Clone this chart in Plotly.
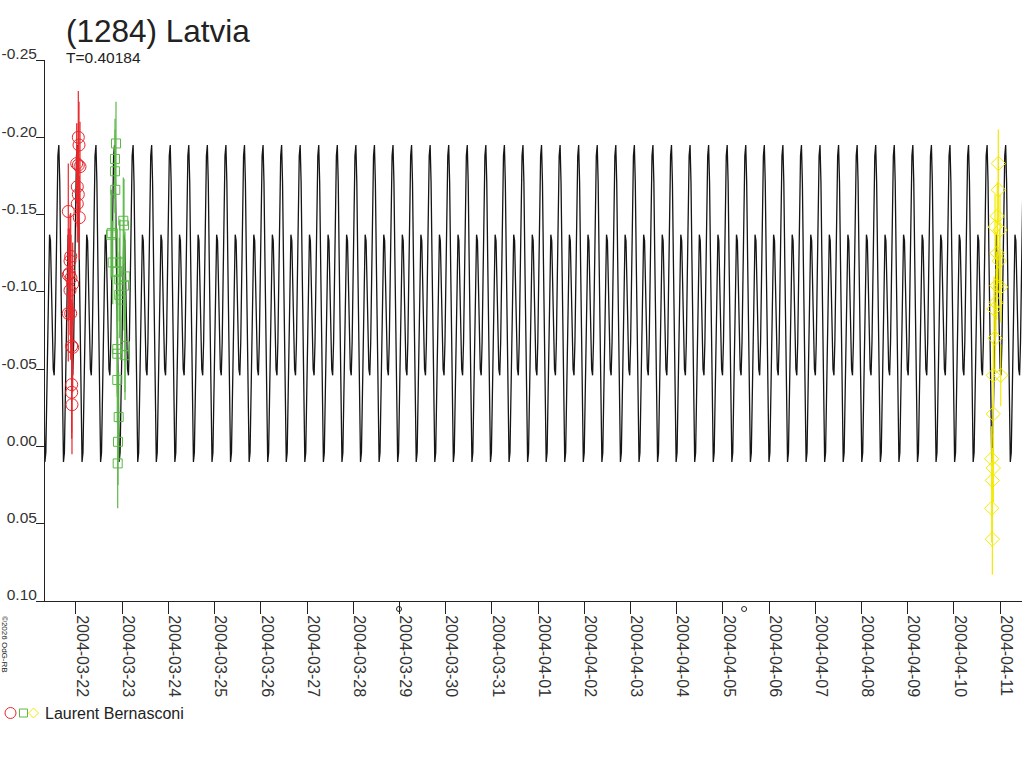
import numpy as np
import pandas as pd
import plotly.graph_objects as go

# ---------------- data ----------------
TITLE = "(1284) Latvia"
PERIOD_LABEL = "T=0.40184"
PERIOD_DAYS = 0.40184
OBSERVER = "Laurent Bernasconi"
COPYRIGHT = "©2026 OdG-RB"

# model lightcurve: one period (phase 0 = main maximum)
model_epoch = "2004-03-21 15:05"
model_phase = [0.00, 0.05, 0.10, 0.15, 0.20, 0.25, 0.30, 0.35, 0.40, 0.45,
               0.50, 0.55, 0.60, 0.65, 0.70, 0.75, 0.80, 0.85, 0.90, 0.95]
model_mag = [-0.195, -0.171, -0.122, -0.064, -0.015, 0.010, 0.004, -0.029, -0.075, -0.116,
             -0.137, -0.133, -0.108, -0.075, -0.050, -0.046, -0.068, -0.109, -0.155, -0.188]

# session 1 (red circles)
red_time = ["2004-03-22 01:12", "2004-03-22 01:34", "2004-03-22 00:22", "2004-03-22 01:12",
            "2004-03-22 02:05", "2004-03-22 00:41", "2004-03-22 01:12", "2004-03-22 00:41",
            "2004-03-21 20:00", "2004-03-22 01:43", "2004-03-21 21:15", "2004-03-21 20:53",
            "2004-03-21 20:31", "2004-03-21 20:00", "2004-03-21 21:24", "2004-03-21 22:17",
            "2004-03-21 20:53", "2004-03-21 21:15", "2004-03-21 20:00", "2004-03-21 21:46",
            "2004-03-21 22:17", "2004-03-21 21:46", "2004-03-21 21:46", "2004-03-21 21:55"]
red_mag = [-0.200, -0.195, -0.183, -0.182, -0.181, -0.168, -0.163, -0.157,
           -0.152, -0.148, -0.123, -0.120, -0.112, -0.111, -0.109, -0.105,
           -0.101, -0.086, -0.086, -0.065, -0.064, -0.040, -0.035, -0.027]
red_err = [0.030, 0.028, 0.026, 0.027, 0.029, 0.026, 0.027, 0.025,
           0.031, 0.027, 0.028, 0.030, 0.029, 0.030, 0.028, 0.027,
           0.029, 0.030, 0.031, 0.030, 0.029, 0.031, 0.030, 0.032]

# session 2 (green squares)
green_time = ["2004-03-22 20:47", "2004-03-22 20:16", "2004-03-22 20:16", "2004-03-22 20:25",
              "2004-03-22 18:33", "2004-03-22 18:11", "2004-03-23 00:34", "2004-03-23 00:56",
              "2004-03-23 01:27", "2004-03-22 22:51", "2004-03-22 19:04", "2004-03-22 22:30",
              "2004-03-22 21:27", "2004-03-22 21:27", "2004-03-23 01:27", "2004-03-23 01:27",
              "2004-03-22 21:27", "2004-03-22 22:11", "2004-03-22 21:49", "2004-03-22 21:40",
              "2004-03-22 21:27", "2004-03-22 22:30", "2004-03-23 00:56", "2004-03-22 23:13"]
green_mag = [-0.196, -0.186, -0.178, -0.166, -0.138, -0.137, -0.146, -0.143,
             -0.110, -0.119, -0.119, -0.098, -0.063, -0.060, -0.065, -0.059,
             -0.043, -0.019, -0.003, 0.011, -0.113, -0.108, -0.104, -0.095]
green_err = [0.027, 0.026, 0.027, 0.028, 0.028, 0.029, 0.028, 0.030,
             0.029, 0.028, 0.027, 0.028, 0.029, 0.028, 0.030, 0.029,
             0.028, 0.029, 0.028, 0.029, 0.028, 0.027, 0.029, 0.028]

# session 3 (yellow diamonds)
yellow_time = ["2004-04-10 23:07", "2004-04-10 23:07", "2004-04-10 22:35", "2004-04-10 21:24",
               "2004-04-11 00:00", "2004-04-10 22:35", "2004-04-10 23:38", "2004-04-10 22:18",
               "2004-04-11 00:22", "2004-04-10 21:55", "2004-04-10 20:53", "2004-04-10 21:24",
               "2004-04-10 20:31", "2004-04-11 00:22", "2004-04-10 20:31", "2004-04-10 19:41",
               "2004-04-10 20:31", "2004-04-10 20:01", "2004-04-10 19:41", "2004-04-10 20:01"]
yellow_mag = [-0.183, -0.166, -0.149, -0.142, -0.140, -0.125, -0.120, -0.104,
              -0.103, -0.093, -0.089, -0.070, -0.046, -0.046, -0.021, 0.008,
              0.014, 0.022, 0.040, 0.060]
yellow_err = [0.022, 0.021, 0.022, 0.021, 0.023, 0.022, 0.021, 0.022,
              0.023, 0.022, 0.021, 0.022, 0.022, 0.020, 0.022, 0.021,
              0.022, 0.021, 0.022, 0.023]

# moon phase markers (first quarter, full moon), drawn just under the time axis
moon_time = ["2004-03-28 23:48", "2004-04-05 11:03"]

y_tickvals = [-0.25, -0.20, -0.15, -0.10, -0.05, 0.00, 0.05, 0.10]
y_ticktext = ["-0.25", "-0.20", "-0.15", "-0.10", "-0.05", "0.00", "0.05", "0.10"]
x_range = ["2004-03-21 07:54", "2004-04-11 11:25"]
x_tick0 = "2004-03-22"

# ---------------- model curve tiled over the window ----------------
epoch = pd.Timestamp(model_epoch)
t_start = pd.Timestamp(x_range[0])
t_end = pd.Timestamp(x_range[1])
n0 = int(np.floor((t_start - epoch) / pd.Timedelta(days=PERIOD_DAYS))) - 1
n1 = int(np.ceil((t_end - epoch) / pd.Timedelta(days=PERIOD_DAYS))) + 1
mx, my = [], []
for n in range(n0, n1 + 1):
    for ph, mg in zip(model_phase, model_mag):
        mx.append(epoch + pd.to_timedelta((n + ph) * PERIOD_DAYS, unit="D"))
        my.append(mg)

FONT = "Liberation Sans, Arial, sans-serif"
RED = "#e8282c"
GREEN = "#5cb848"
YELLOW = "#f4ea00"
INK = "#222222"

fig = go.Figure()
fig.add_trace(go.Scatter(x=mx, y=my, mode="lines", line=dict(color="#151515", width=1.3),
                         hoverinfo="skip", showlegend=False))


def session(t, m, e, color, symbol, size):
    return go.Scatter(
        x=pd.to_datetime(t), y=m, mode="markers",
        marker=dict(symbol=symbol, size=size, color=color,
                    line=dict(color=color, width=1)),
        error_y=dict(type="data", array=e, visible=True, color=color, thickness=1.2, width=0),
        showlegend=False)


fig.add_trace(session(red_time, red_mag, red_err, RED, "circle-open", 12))
fig.add_trace(session(green_time, green_mag, green_err, GREEN, "square-open", 9))
fig.add_trace(session(yellow_time, yellow_mag, yellow_err, YELLOW, "diamond-open", 11))

W, H = 1024, 768
ML, MR, MT, MB = 45, 2, 60, 167
PW, PH = W - ML - MR, H - MT - MB


def px(x):
    return (x - ML) / PW


def py(y):
    return (H - MB - y) / PH


annotations = [
    dict(text=TITLE, x=px(64), y=py(31), xanchor="left", yanchor="middle",
         font=dict(size=31.5, color=INK, family=FONT)),
    dict(text=PERIOD_LABEL, x=px(64), y=py(58), xanchor="left", yanchor="middle",
         font=dict(size=15.5, color=INK, family=FONT)),
    dict(text=OBSERVER, x=px(43), y=py(713), xanchor="left", yanchor="middle",
         font=dict(size=16, color=INK, family=FONT)),
    dict(text=COPYRIGHT, x=px(5), y=py(644), xanchor="center", yanchor="middle",
         textangle=90, font=dict(size=8, color=INK, family=FONT)),
]
for a in annotations:
    a.update(xref="paper", yref="paper", showarrow=False)

shapes = [
    dict(type="circle", x0=px(5), x1=px(16), y0=py(718.5), y1=py(707.5),
         xref="paper", yref="paper", line=dict(color=RED, width=1)),
    dict(type="rect", x0=px(19.5), x1=px(27.5), y0=py(717), y1=py(709),
         xref="paper", yref="paper", line=dict(color=GREEN, width=1)),
    dict(type="path",
         path=f"M {px(28.5)} {py(713)} L {px(33.5)} {py(708)} L {px(38.5)} {py(713)} L {px(33.5)} {py(718)} Z",
         xref="paper", yref="paper", line=dict(color=YELLOW, width=1)),
]
for t in moon_time:
    shapes.append(dict(type="circle", xref="x", yref="paper", xsizemode="pixel", ysizemode="pixel",
                       xanchor=t, yanchor=py(609), x0=-2.5, x1=2.5, y0=-2.5, y1=2.5,
                       line=dict(color=INK, width=1)))

fig.update_layout(
    width=W, height=H, autosize=False,
    margin=dict(l=ML, r=MR, t=MT, b=MB, pad=0),
    paper_bgcolor="white", plot_bgcolor="white",
    font=dict(family=FONT, color="#333333", size=16),
    annotations=annotations, shapes=shapes, showlegend=False,
    xaxis=dict(type="date", range=x_range, tickmode="linear", tick0=x_tick0,
               dtick=86400000, tickformat="%Y-%m-%d", tickangle=90, automargin=False,
               ticks="outside", ticklen=12, tickcolor=INK, tickwidth=1,
               showline=True, linecolor=INK, linewidth=1, showgrid=False, zeroline=False,
               tickfont=dict(size=16, color="#333333", family=FONT), ticklabelshift=6,
               ticklabelstandoff=-2),
    yaxis=dict(range=[0.10, -0.25], tickmode="array", tickvals=y_tickvals, ticktext=y_ticktext,
               automargin=False,
               ticks="outside", ticklen=8, tickcolor=INK, tickwidth=1,
               showline=True, linecolor=INK, linewidth=1, showgrid=False, zeroline=False,
               tickfont=dict(size=15.5, color="#333333", family=FONT), ticklabelshift=6,
               ticklabelstandoff=-4),
)

fig.write_html("out.html", config={"displayModeBar": False},
               post_script="document.body.style.margin='0';")
